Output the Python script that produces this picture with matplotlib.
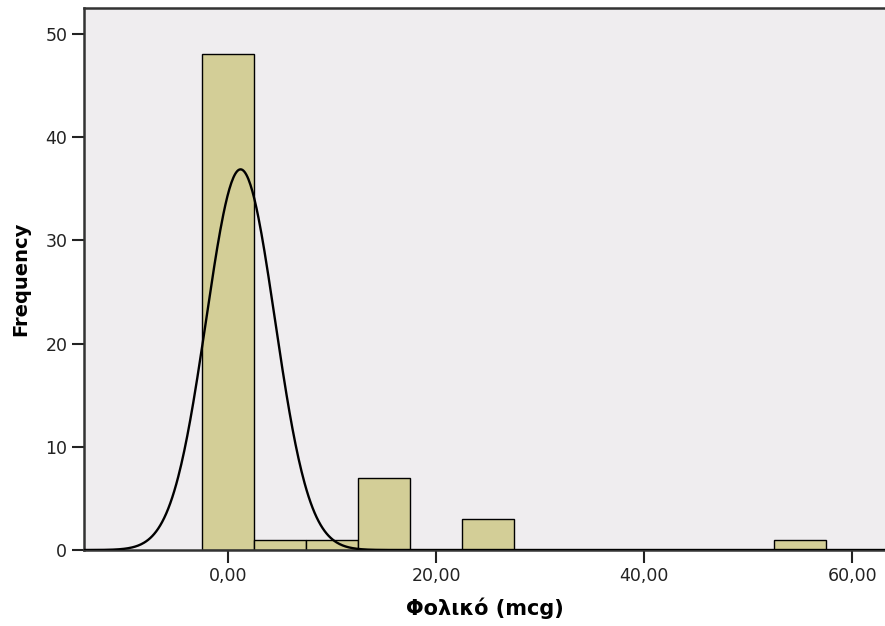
import numpy as np
import matplotlib
matplotlib.use("Agg")
import matplotlib.pyplot as plt

# Data
bin_centers = [0, 5, 10, 15, 20, 25, 30, 35, 40, 45, 50, 55]
counts = [48, 1, 1, 7, 0, 3, 0, 0, 0, 0, 0, 1]
bin_width = 5
curve_mean = 1.2
curve_sd = 3.3
n_total = sum(counts)
x_ticks = [0, 20, 40, 60]
x_tick_labels = ["0,00", "20,00", "40,00", "60,00"]
y_ticks = [0, 10, 20, 30, 40, 50]

fig = plt.figure(figsize=(8.85, 6.26), dpi=100)
ax = fig.add_axes([84/885, 1 - 550/626, 1 - 84/885, (550 - 8)/626])
ax.set_facecolor("#EFEDEF")

ax.bar(bin_centers, counts, width=bin_width, align="center",
       color="#D3CE97", edgecolor="black", linewidth=1.0, zorder=2)

xlim = (-13.85, 63.15)
xs = np.linspace(xlim[0], xlim[1], 800)
ys = n_total * bin_width / (curve_sd * np.sqrt(2 * np.pi)) * np.exp(-0.5 * ((xs - curve_mean) / curve_sd) ** 2)
ax.plot(xs, ys, color="black", linewidth=1.7, zorder=3)

ax.set_xlim(*xlim)
ax.set_ylim(0, 52.5)
ax.set_xticks(x_ticks)
ax.set_xticklabels(x_tick_labels)
ax.set_yticks(y_ticks)
ax.tick_params(axis="both", direction="out", length=9, width=1.5, colors="#222222",
               labelsize=12.5, labelcolor="#222222", pad=3)

for side in ["left", "bottom", "top"]:
    ax.spines[side].set_color("#333333")
    ax.spines[side].set_linewidth(1.8)
ax.spines["right"].set_visible(False)

ax.set_xlabel("Φολικό (mcg)", fontsize=15, fontweight="bold", labelpad=9)
ax.set_ylabel("Frequency", fontsize=14, fontweight="bold", labelpad=11)

fig.savefig("out.png", dpi=100, facecolor="white")
